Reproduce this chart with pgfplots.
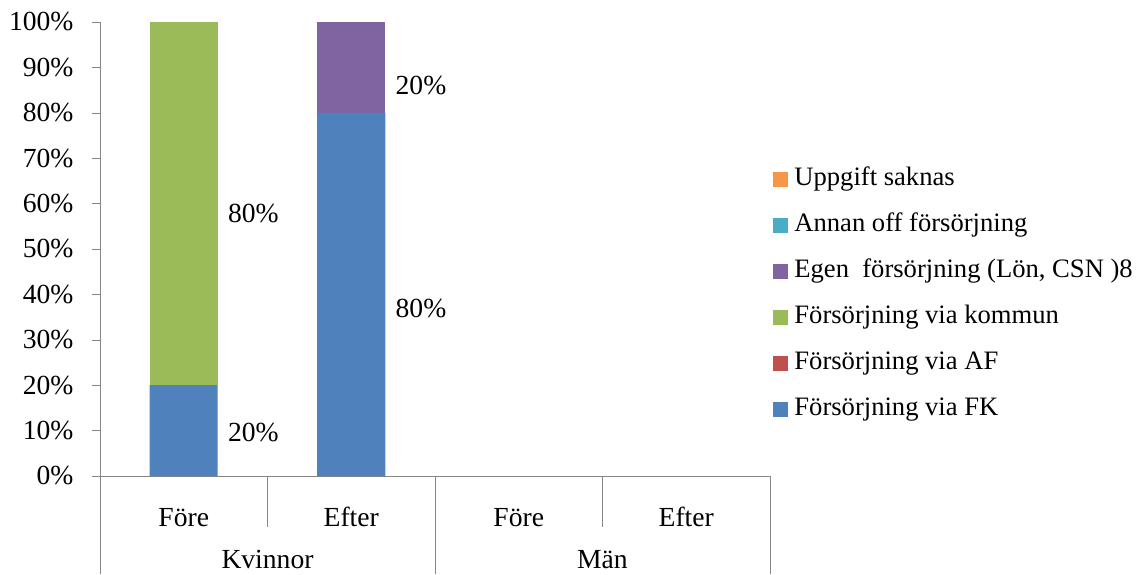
\documentclass[border=0pt]{standalone}
\usepackage{fontspec}
\setmainfont{Liberation Serif}
\usepackage{pgfplots}
\pgfplotsset{compat=1.18}
\definecolor{cFK}{HTML}{4F81BD}
\definecolor{cAF}{HTML}{C0504D}
\definecolor{cKom}{HTML}{9BBB59}
\definecolor{cEgen}{HTML}{8064A2}
\definecolor{cAnnan}{HTML}{4BACC6}
\definecolor{cUpp}{HTML}{F79646}
\definecolor{axgray}{HTML}{868686}
\begin{document}
\fontsize{13.8}{16}\selectfont
\begin{tikzpicture}
\path[use as bounding box] (-50pt,-49pt) rectangle (520.5pt,238pt);
\begin{axis}[
  scale only axis, width=335pt, height=227pt,
  ybar stacked, bar width=34pt,
  xmin=0, xmax=4, ymin=0, ymax=100,
  clip=false,
  axis lines*=left,
  axis line style={draw=axgray},
  xtick={0.5,1.5,2.5,3.5},
  xticklabels={Före,Efter,Före,Efter},
  x tick style={draw=none},
  x tick label style={anchor=base, yshift=-21pt},
  ytick={0,10,...,100},
  yticklabels={0\%,10\%,20\%,30\%,40\%,50\%,60\%,70\%,80\%,90\%,100\%},
  y tick style={draw=axgray},
  tick align=outside, major tick length=4pt,
  y tick label style={xshift=-4.5pt},
  legend image code/.code={\fill[#1] (0pt,-3.75pt) rectangle (7.5pt,3.75pt);},
  reverse legend,
  legend cell align=left,
  legend style={draw=none, fill=none, at={(1.0045,0.399)}, anchor=west,
    inner sep=0pt, outer sep=0pt, row sep=11pt, column sep=3.2pt,
    font=\fontsize{13.3}{16}\selectfont,
    nodes={inner sep=0pt, text height=9pt, text depth=3pt}},
]
\addplot[fill=cFK, draw=none] coordinates {(0.5,20) (1.5,80) (2.5,0) (3.5,0)};
\addplot[fill=cAF, draw=none] coordinates {(0.5,0) (1.5,0) (2.5,0) (3.5,0)};
\addplot[fill=cKom, draw=none] coordinates {(0.5,80) (1.5,0) (2.5,0) (3.5,0)};
\addplot[fill=cEgen, draw=none] coordinates {(0.5,0) (1.5,20) (2.5,0) (3.5,0)};
\addplot[fill=cAnnan, draw=none] coordinates {(0.5,0) (1.5,0) (2.5,0) (3.5,0)};
\addplot[fill=cUpp, draw=none] coordinates {(0.5,0) (1.5,0) (2.5,0) (3.5,0)};
\legend{Försörjning via FK, Försörjning via AF, Försörjning via kommun, Egen\ \ försörjning (Lön\hbox{,} CSN )8, Annan off försörjning, Uppgift saknas}
\node[anchor=west, inner sep=0pt, xshift=22pt] at (axis cs:0.5,57.9) {80\%};
\node[anchor=west, inner sep=0pt, xshift=22pt] at (axis cs:0.5,9.5) {20\%};
\node[anchor=west, inner sep=0pt, xshift=22pt] at (axis cs:1.5,36.8) {80\%};
\node[anchor=west, inner sep=0pt, xshift=22pt] at (axis cs:1.5,86.1) {20\%};
\draw[axgray] (axis cs:0,0) -- ++(-4pt,0);
\draw[axgray] (axis cs:1,0) -- ++(0,-25.5pt);
\draw[axgray] (axis cs:3,0) -- ++(0,-25.5pt);
\draw[axgray] (axis cs:0,0) -- ++(0,-49pt);
\draw[axgray] (axis cs:2,0) -- ++(0,-49pt);
\draw[axgray] (axis cs:4,0) -- ++(0,-49pt);
\node[anchor=base, yshift=-46pt] at (axis cs:1,0) {Kvinnor};
\node[anchor=base, yshift=-46pt] at (axis cs:3,0) {Män};
\end{axis}
\end{tikzpicture}
\end{document}
